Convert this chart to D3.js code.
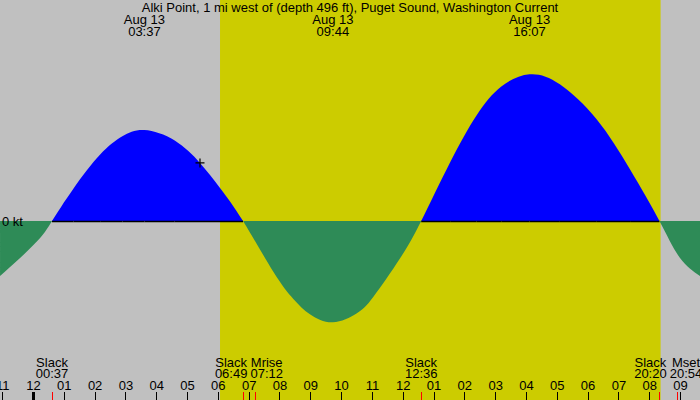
<!DOCTYPE html>
<html>
<head>
<meta charset="utf-8">
<script src="https://cdn.jsdelivr.net/npm/d3@7"></script>
<style>
  body { margin: 0; background: #fff; }
  text { font-family: "Liberation Sans", Arial, sans-serif; font-size: 13px; fill: #000; }
</style>
</head>
<body>
<div id="chart"></div>
<script>
const title = "Alki Point, 1 mi west of (depth 496 ft), Puget Sound, Washington Current";

// hour ticks along the bottom (hours from midnight Aug 13)
const tickHours = [-1, 0, 1, 2, 3, 4, 5, 6, 7, 8, 9, 10, 11, 12, 13, 14, 15, 16, 17, 18, 19, 20, 21];
const tickLabels = ["11", "12", "01", "02", "03", "04", "05", "06", "07", "08", "09", "10", "11",
                    "12", "01", "02", "03", "04", "05", "06", "07", "08", "09"];

// current in knots
const curveHours = [-1.07, -0.42, 0.23, 0.617, 1.31, 2.18, 2.9, 3.617, 4.6, 5.42, 6.07, 6.817,
                    7.80, 8.45, 9.0, 9.733, 10.5, 11.05, 11.91, 12.6,
                    13.54, 14.40, 15.2, 16.117, 17.1, 18.30, 19.38, 20.333, 21.0, 21.65];
const curveKt = [-0.374, -0.252, -0.116, 0, 0.22, 0.452, 0.576, 0.619, 0.548, 0.395, 0.225, 0,
                 -0.345, -0.53, -0.636, -0.689, -0.629, -0.515, -0.255, 0,
                 0.40, 0.72, 0.915, 0.998, 0.93, 0.69, 0.35, 0, -0.252, -0.374];

// max flood / ebb labels on top
const peakHours = [3.617, 9.733, 16.117];
const peakDates = ["Aug 13", "Aug 13", "Aug 13"];
const peakTimes = ["03:37", "09:44", "16:07"];

// slack and moon events on the bottom
const eventNames = ["Slack", "Slack", "Mrise", "Slack", "Slack", "Mset"];
const eventTimes = ["00:37", "06:49", "07:12", "12:36", "20:20", "20:54"];
const eventHours = [0.617, 6.817, 7.2, 12.6, 20.333, 20.9];

// daylight
const sunrise = 6.07;
const sunset = 20.37;

// present moment marker
const nowHour = 5.42;
const nowKt = 0.395;

const W = 700, H = 400;

const svg = d3.select("#chart").append("svg")
    .attr("width", W)
    .attr("height", H);

const x = d3.scaleLinear().domain([0, 21]).range([33, 680]);
const y = d3.scaleLinear().domain([-1, 1]).range([368, 74]);

// background night / day
svg.append("rect")
    .attr("width", W).attr("height", H)
    .attr("fill", "#c0c0c0");
svg.append("rect")
    .attr("x", x(sunrise)).attr("y", 0)
    .attr("width", x(sunset) - x(sunrise)).attr("height", H)
    .attr("fill", "#cccc00");

// flood above zero, ebb below
const defs = svg.append("defs");
defs.append("clipPath").attr("id", "above")
    .append("rect").attr("x", 0).attr("y", 0).attr("width", W).attr("height", y(0));
defs.append("clipPath").attr("id", "below")
    .append("rect").attr("x", 0).attr("y", y(0)).attr("width", W).attr("height", H - y(0));

const pts = curveHours.map((h, i) => ({ h: h, v: curveKt[i] }));

const area = d3.area()
    .x(d => x(d.h))
    .y0(y(0))
    .y1(d => y(d.v))
    .curve(d3.curveNatural);

svg.append("path")
    .attr("d", area(pts))
    .attr("fill", "#0000ff")
    .attr("clip-path", "url(#above)");
svg.append("path")
    .attr("d", area(pts))
    .attr("fill", "#2e8b57")
    .attr("clip-path", "url(#below)");

// zero line, only under the flood
for (let i = 1; i < pts.length; i++) {
    if (pts[i - 1].v >= 0 && pts[i].v >= 0) {
        svg.append("line")
            .attr("x1", x(pts[i - 1].h)).attr("x2", x(pts[i].h))
            .attr("y1", y(0) + 0.5).attr("y2", y(0) + 0.5)
            .attr("stroke", "#000")
            .attr("stroke-width", 1.5);
    }
}

svg.append("text")
    .attr("x", 2)
    .attr("y", y(0) + 5)
    .text("0 kt");

// now marker
svg.append("path")
    .attr("d", "M" + (x(nowHour) - 4.5) + "," + (y(nowKt)) + "h9M" + x(nowHour) + "," + (y(nowKt) - 4.5) + "v9")
    .attr("stroke", "#000")
    .attr("stroke-width", 1.2)
    .attr("fill", "none");

// title and peak labels
svg.append("text")
    .attr("x", W / 2).attr("y", 12)
    .attr("text-anchor", "middle")
    .text(title);

peakHours.forEach((h, i) => {
    svg.append("text")
        .attr("x", x(h)).attr("y", 24)
        .attr("text-anchor", "middle")
        .text(peakDates[i]);
    svg.append("text")
        .attr("x", x(h)).attr("y", 36)
        .attr("text-anchor", "middle")
        .text(peakTimes[i]);
});

// hour axis
const axis = d3.axisBottom(x)
    .tickValues(tickHours)
    .tickFormat((d, i) => tickLabels[i])
    .tickSize(8)
    .tickPadding(0);

const gAxis = svg.append("g")
    .attr("transform", "translate(0,392)")
    .call(axis);
gAxis.select(".domain").remove();
gAxis.selectAll("line").attr("stroke", "#000").attr("shape-rendering", "crispEdges");
gAxis.selectAll(".tick").filter(d => d === 0).select("line").attr("stroke-width", 3);
gAxis.selectAll("text")
    .attr("y", -2)
    .attr("dy", null)
    .style("font-family", "'Liberation Sans', Arial, sans-serif")
    .style("font-size", "13px");

// event ticks
eventHours.forEach(h => {
    svg.append("line")
        .attr("x1", Math.round(x(h)) + 0.5).attr("x2", Math.round(x(h)) + 0.5)
        .attr("y1", 392).attr("y2", 400)
        .attr("stroke", "#ff0000");
});

// event labels, pushed apart where they collide
const labs = eventHours.map((h, i) => {
    const g = svg.append("g");
    const t1 = g.append("text").attr("y", 367).attr("text-anchor", "middle").text(eventNames[i]);
    const t2 = g.append("text").attr("y", 378).attr("text-anchor", "middle").text(eventTimes[i]);
    const w = Math.max(t1.node().getComputedTextLength(), t2.node().getComputedTextLength());
    return { g: g, cx: x(h), w: w };
});
for (let i = 1; i < labs.length; i++) {
    const a = labs[i - 1], b = labs[i];
    const over = (a.cx + a.w / 2 + 3) - (b.cx - b.w / 2);
    if (over > 0) {
        a.cx -= over / 2;
        b.cx += over / 2;
    }
}
labs.forEach(l => l.g.attr("transform", "translate(" + l.cx + ",0)"));
</script>
</body>
</html>
